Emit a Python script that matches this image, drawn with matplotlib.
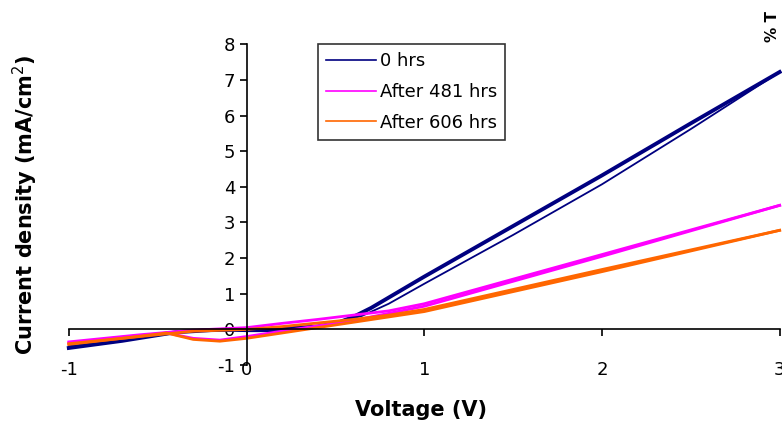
import numpy as np
import matplotlib
matplotlib.use("Agg")
import matplotlib.pyplot as plt

plt.rcParams['font.family'] = ['DejaVu Sans']
plt.rcParams['axes.unicode_minus'] = False

# 0 hrs: forward scan then reverse scan
v_0h_fwd = [-1.0, -0.7, -0.4, -0.2, 0.0, 0.2, 0.4, 0.52, 0.6, 0.7, 1.0, 1.5, 2.0, 2.5, 3.0]
j_0h_fwd = [-0.52, -0.32, -0.08, -0.02, 0.0, 0.02, 0.08, 0.2, 0.35, 0.6, 1.48, 2.9, 4.32, 5.78, 7.22]
v_0h_rev = [3.0, 2.5, 2.0, 1.5, 1.0, 0.8, 0.65, 0.5, 0.35, 0.2, 0.0, -0.2, -0.4, -0.7, -1.0]
j_0h_rev = [7.22, 5.62, 4.07, 2.65, 1.28, 0.72, 0.38, 0.18, 0.05, -0.05, -0.05, -0.02, -0.1, -0.3, -0.47]

# after 481 hrs
v_481_fwd = [-1.0, -0.7, -0.45, -0.3, -0.15, 0.0, 0.2, 0.4, 0.6, 0.8, 1.0, 2.0, 3.0]
j_481_fwd = [-0.38, -0.22, -0.1, -0.25, -0.3, -0.2, -0.05, 0.1, 0.25, 0.45, 0.65, 2.05, 3.48]
v_481_rev = [3.0, 2.0, 1.0, 0.8, 0.6, 0.4, 0.2, 0.0, -0.3, -0.6, -1.0]
j_481_rev = [3.48, 2.1, 0.72, 0.52, 0.4, 0.28, 0.17, 0.05, -0.02, -0.15, -0.35]

# after 606 hrs
v_606_fwd = [-1.0, -0.7, -0.45, -0.3, -0.15, 0.0, 0.2, 0.4, 0.6, 0.8, 1.0, 2.0, 3.0]
j_606_fwd = [-0.42, -0.25, -0.1, -0.28, -0.33, -0.25, -0.1, 0.05, 0.2, 0.35, 0.5, 1.62, 2.78]
v_606_rev = [3.0, 2.0, 1.0, 0.8, 0.6, 0.4, 0.2, 0.0, -0.3, -0.6, -1.0]
j_606_rev = [2.78, 1.68, 0.56, 0.4, 0.28, 0.18, 0.08, 0.0, -0.05, -0.2, -0.4]

labels = ["0 hrs", "After 481 hrs", "After 606 hrs"]
colors = ["#000080", "#ff00ff", "#ff6600"]

x_ticks = [-1, 0, 1, 2, 3]
y_ticks = [-1, 0, 1, 2, 3, 4, 5, 6, 7, 8]

fig = plt.figure(figsize=(7.82, 4.25), dpi=100)
ax = fig.add_axes([0.088, 0.141, 0.909, 0.755])

scans = [
    (v_0h_fwd, j_0h_fwd, v_0h_rev, j_0h_rev, 2.8, 1.3),
    (v_481_fwd, j_481_fwd, v_481_rev, j_481_rev, 2.0, 2.0),
    (v_606_fwd, j_606_fwd, v_606_rev, j_606_rev, 2.0, 2.0),
]
for (vf, jf, vr, jr, lwf, lwr), lab, c in zip(scans, labels, colors):
    ax.plot(vf, jf, color=c, lw=lwf, clip_on=False)
    ax.plot(vr, jr, color=c, lw=lwr, clip_on=False)
    ax.plot([], [], color=c, lw=1.2, label=lab)

ax.set_xlim(-1, 3)
ax.set_ylim(-1, 8)
ax.spines['left'].set_position(('data', 0))
ax.spines['bottom'].set_position(('data', 0))
ax.spines['top'].set_visible(False)
ax.spines['right'].set_visible(False)
for s in ['left', 'bottom']:
    ax.spines[s].set_linewidth(1.2)

ax.set_xticks(x_ticks)
ax.set_yticks(y_ticks)
ax.tick_params(axis='both', labelsize=13, direction='out', length=5, width=1.2)
ax.tick_params(axis='x', pad=18)
ax.tick_params(axis='y', pad=3)

ax.set_xlabel("Voltage (V)", fontsize=15, fontweight='bold')
ax.xaxis.set_label_coords(0.496, -0.108)
ax.set_ylabel("Current density (mA/cm$^2$)", fontsize=15, fontweight='bold')
ax.yaxis.set_label_coords(-0.04, 0.5)

leg = ax.legend(loc='upper left', bbox_to_anchor=(0.35, 1.0), fontsize=13,
                frameon=True, fancybox=False, edgecolor='black',
                handlelength=2.8, handletextpad=0.2, labelspacing=0.7,
                borderpad=0.45, borderaxespad=0)
leg.get_frame().set_linewidth(1.2)

fig.text(0.988, 0.975, "% T", rotation=90, fontsize=11, fontweight='bold',
         ha='center', va='top')

fig.savefig("out.png", dpi=100)
